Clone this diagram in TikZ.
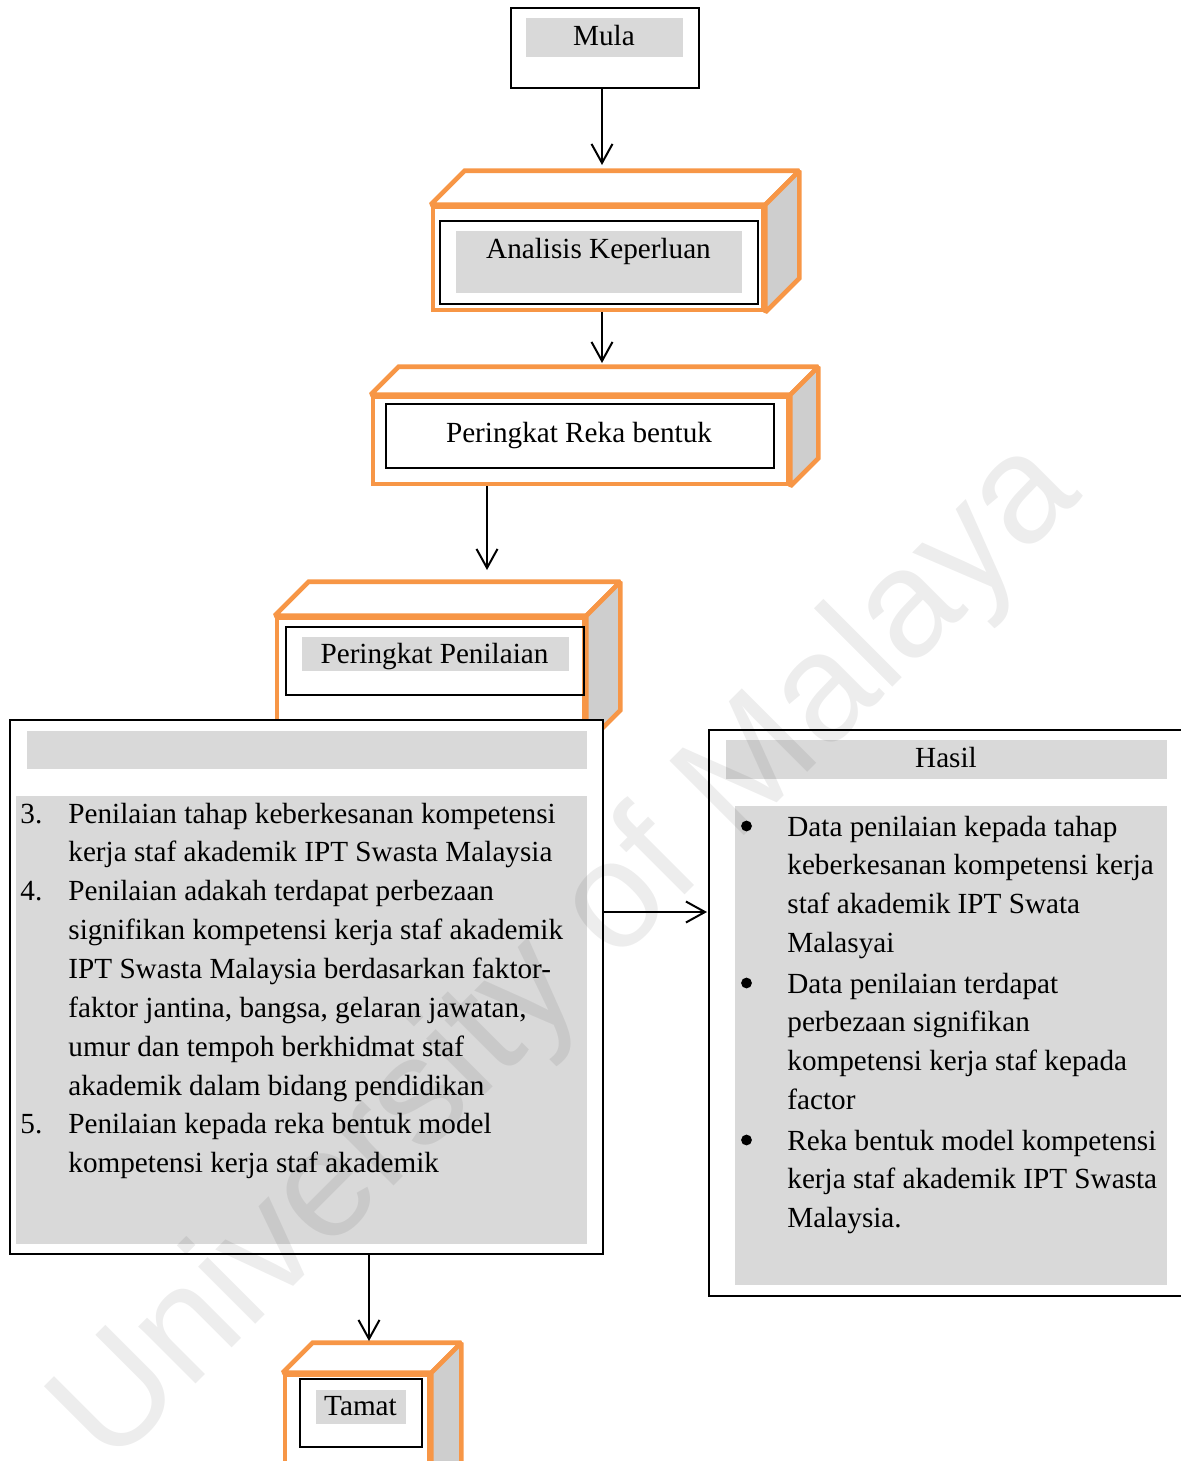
\documentclass[tikz,border=0pt]{standalone}
\usepackage{fontspec}
\setmainfont{Liberation Serif}
\newfontfamily\wmfont{Liberation Sans}
\usetikzlibrary{arrows.meta,calc,fit}

\definecolor{boxorange}{RGB}{247,150,70}
\definecolor{panelgray}{RGB}{217,217,217}
\definecolor{sidegray}{RGB}{206,206,206}

\newcommand\cubefaces[2]{% #1 front-face node, #2 depth
  \draw[face] (#1.north west) -- ++(#2,-#2) -- ($(#1.north east)+(#2,-#2)$) -- (#1.north east) -- cycle;
  \draw[face,fill=sidegray] (#1.north east) -- ++(#2,-#2) -- ($(#1.south east)+(#2,-#2)$) -- (#1.south east) -- cycle;
}

\begin{document}
\begin{tikzpicture}[x=0.5pt,y=-0.5pt,
  face/.style={draw=boxorange, line width=2.3pt, line join=miter, miter limit=1.5, fill=white},
  frontface/.style={face, inner sep=0pt},
  frame/.style={draw=black, line width=0.8pt, fill=white, inner sep=0pt},
  thinframe/.style={draw=black, line width=0.8pt, inner sep=0pt},
  panel/.style={fill=panelgray, inner sep=0pt},
  txt/.style={font=\fontsize{14.6pt}{19.43pt}\selectfont, inner sep=0pt, anchor=base},
  ltxt/.style={txt, anchor=base west},
  dot/.style={circle, fill=black, inner sep=0pt, minimum size=5.4pt},
  arr/.style={draw=black, line width=1pt, -{Straight Barb[length=9.5pt,width=10.5pt,line width=1pt]}},
]
\useasboundingbox (0,0) rectangle (1181,1461);
\clip (0,0) rectangle (1181,1461);

% start
\node[frame, fit={(511,8)(699,88)}] (mula) {};
\node[panel, fit={(526,18)(683,57)}] (mulap) {};
\node[txt] (mulat) at (604,46) {Mula};

% needs analysis
\node[frontface, fit={(433,207)(763,310)}] (c1) {};
\cubefaces{c1}{34}
\node[thinframe, fit={(440,221)(758,304)}] (c1i) {};
\node[panel, fit={(456,231)(742,293)}] (c1p) {};
\node[txt] (c1t) at (598.5,258) {Analisis Keperluan};

% design stage
\node[frontface, fit={(373,397)(788,484)}] (c2) {};
\cubefaces{c2}{28}
\node[thinframe, fit={(386,404)(774,468)}] (c2i) {};
\node[txt] (c2t) at (579,442) {Peringkat Reka bentuk};

% evaluation stage
\node[frontface, fit={(277,618)(584,742)}] (c3) {};
\cubefaces{c3}{34}
\node[thinframe, fit={(286,627)(584,695)}] (c3i) {};
\node[panel, fit={(302,637)(569,671)}] (c3p) {};
\node[txt] (c3t) at (434.5,663) {Peringkat Penilaian};

% evaluation details
\node[frame, fit={(10,720)(603,1254)}] (big) {};
\node[panel, fit={(27,731)(587,769)}] (bighead) {};
\node[panel, fit={(16,796)(587,1244)}] (bigbody) {};
\node[ltxt] (n3) at (20,823) {3.};
\node[ltxt] (i3) at (68,823) {\parbox[t]{290pt}{\raggedright Penilaian tahap keberkesanan kompetensi\\kerja staf akademik IPT Swasta Malaysia}};
\node[ltxt] (n4) at (20,900.7) {4.};
\node[ltxt] (i4) at (68,900.7) {\parbox[t]{290pt}{\raggedright Penilaian adakah terdapat perbezaan\\signifikan kompetensi kerja staf akademik\\IPT Swasta Malaysia berdasarkan faktor-\\faktor jantina, bangsa, gelaran jawatan,\\umur dan tempoh berkhidmat staf\\akademik dalam bidang pendidikan}};
\node[ltxt] (n5) at (20,1133.8) {5.};
\node[ltxt] (i5) at (68,1133.8) {\parbox[t]{290pt}{\raggedright Penilaian kepada reka bentuk model\\kompetensi kerja staf akademik}};

% results
\node[frame, fit={(709,730)(1195,1296)}] (hasil) {};
\node[panel, fit={(726,740)(1167,779)}] (hasilhead) {};
\node[txt] (hasilt) at (946,767) {Hasil};
\node[panel, fit={(735,806)(1167,1285)}] (hasilbody) {};
\node[dot] (b1) at (746.5,826) {};
\node[ltxt] (r1) at (787,836) {\parbox[t]{240pt}{\raggedright Data penilaian kepada tahap\\keberkesanan kompetensi kerja\\staf akademik IPT Swata\\Malasyai}};
\node[dot] (b2) at (746.5,983) {};
\node[ltxt] (r2) at (787,993) {\parbox[t]{240pt}{\raggedright Data penilaian terdapat\\perbezaan signifikan\\kompetensi kerja staf kepada\\factor}};
\node[dot] (b3) at (746.5,1140) {};
\node[ltxt] (r3) at (787,1150) {\parbox[t]{240pt}{\raggedright Reka bentuk model kompetensi\\kerja staf akademik IPT Swasta\\Malaysia.}};

% end
\node[frontface, fit={(285,1375)(429,1490)}] (c4) {};
\cubefaces{c4}{30}
\node[thinframe, fit={(300,1379)(422,1447)}] (c4i) {};
\node[panel, fit={(316,1390)(406,1424)}] (c4p) {};
\node[txt] (c4t) at (360.5,1415) {Tamat};

% connectors
\coordinate (t1) at (602,165);
\coordinate (t2) at (602,363);
\coordinate (t3) at (487,570);
\coordinate (t4) at (707,912);
\coordinate (t5) at (369,1341);
\draw[arr] (mula.south -| t1) -- (t1);
\draw[arr] (c1.south -| t2) -- (t2);
\draw[arr] (c2.south -| t3) -- (t3);
\draw[arr] (big.east |- t4) -- (t4);
\draw[arr] (big.south -| t5) -- (t5);

% watermark
\node[font=\wmfont\fontsize{76.5pt}{80pt}\selectfont, rotate=45, anchor=base west,
      inner sep=0pt, text=black, text opacity=0.07] (wm) at (110,1470) {University of Malaya};
\end{tikzpicture}
\end{document}
